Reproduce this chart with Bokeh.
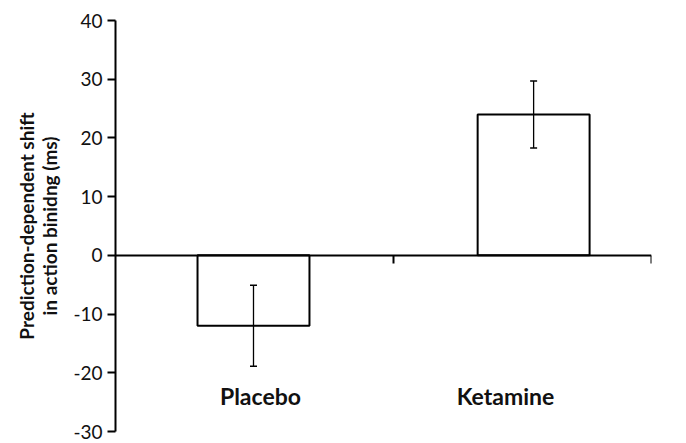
from bokeh.plotting import figure
from bokeh.models import Range1d, FixedTicker, ColumnDataSource, Whisker, TeeHead, LinearAxis, PrintfTickFormatter
from bokeh.core.properties import value
from bokeh.embed import file_html
from bokeh.resources import INLINE
import numpy as np

categories = ["Placebo", "Ketamine"]
means = [-12.0, 24.0]
errors = [6.9, 5.7]
y_ticks = [-30, -20, -10, 0, 10, 20, 30, 40]
y_title = "Prediction-dependent shift\nin action binidng (ms)"

n = len(categories)
centers = np.arange(n) + 0.5
bar_dodge = np.array([-0.043, 0.043])      # style: bars sit slightly off-centre
label_shift = np.array([-0.016, -0.066])   # style: label offsets
label_y = -24.0

m = np.array(means)
e = np.array(errors)
src = ColumnDataSource(dict(x=centers + bar_dodge, top=m, upper=m + e, lower=m - e))
lab = ColumnDataSource(dict(x=centers + label_shift, y=[label_y] * n, text=categories))

p = figure(width=680, height=443, output_backend="svg", toolbar_location=None,
           x_range=Range1d(-0.078, float(n)), y_range=Range1d(y_ticks[0], y_ticks[-1]),
           x_axis_location=None,
           min_border_left=115, min_border_right=29, min_border_top=20, min_border_bottom=12)
p.grid.visible = False
p.outline_line_color = None
p.background_fill_color = "white"
p.border_fill_color = "white"

# y axis
ya = p.yaxis[0]
ya.ticker = FixedTicker(ticks=y_ticks)
ya.formatter = PrintfTickFormatter(format="%d")
ya.axis_line_width = 2
ya.axis_line_color = "black"
ya.major_tick_line_width = 2
ya.major_tick_line_color = "black"
ya.major_tick_out = 8
ya.major_tick_in = 0
ya.minor_tick_out = 0
ya.minor_tick_in = 0
ya.major_label_text_font = "Lato"
ya.major_label_text_font_size = "19px"
ya.major_label_text_color = "#111111"
ya.major_label_standoff = 5
ya.axis_label = y_title
ya.axis_label_text_font = "Lato"
ya.axis_label_text_font_style = "bold"
ya.axis_label_text_font_size = "19px"
ya.axis_label_text_line_height = 1.0
ya.axis_label_text_color = "#111111"
ya.axis_label_standoff = 9

# x axis through zero
xa = LinearAxis(fixed_location=0)
xa.ticker = FixedTicker(ticks=list(np.arange(1, n + 1)))
xa.axis_line_width = 2
xa.axis_line_color = "black"
xa.major_tick_line_width = 2
xa.major_tick_line_color = "black"
xa.major_tick_out = 8
xa.major_tick_in = 0
xa.minor_tick_out = 0
xa.minor_tick_in = 0
xa.major_label_text_font_size = "0px"
xa.major_label_text_alpha = 0
xa.major_label_standoff = 0
p.add_layout(xa, "below")

p.vbar(x="x", top="top", bottom=0, width=0.434, fill_color="white",
       line_color="black", line_width=2, source=src)

w = Whisker(base="x", upper="upper", lower="lower", source=src,
            line_color="black", line_width=1.3,
            upper_head=TeeHead(size=7, line_width=1.5, line_color="black"),
            lower_head=TeeHead(size=7, line_width=1.5, line_color="black"))
w.level = "annotation"
p.add_layout(w)

p.text(x="x", y="y", text="text", source=lab, text_font=value("Lato"),
       text_font_style="bold", text_font_size="23px", text_color="#111111",
       text_align="center", text_baseline="middle")

open("out.html", "w").write(file_html(p, INLINE))
